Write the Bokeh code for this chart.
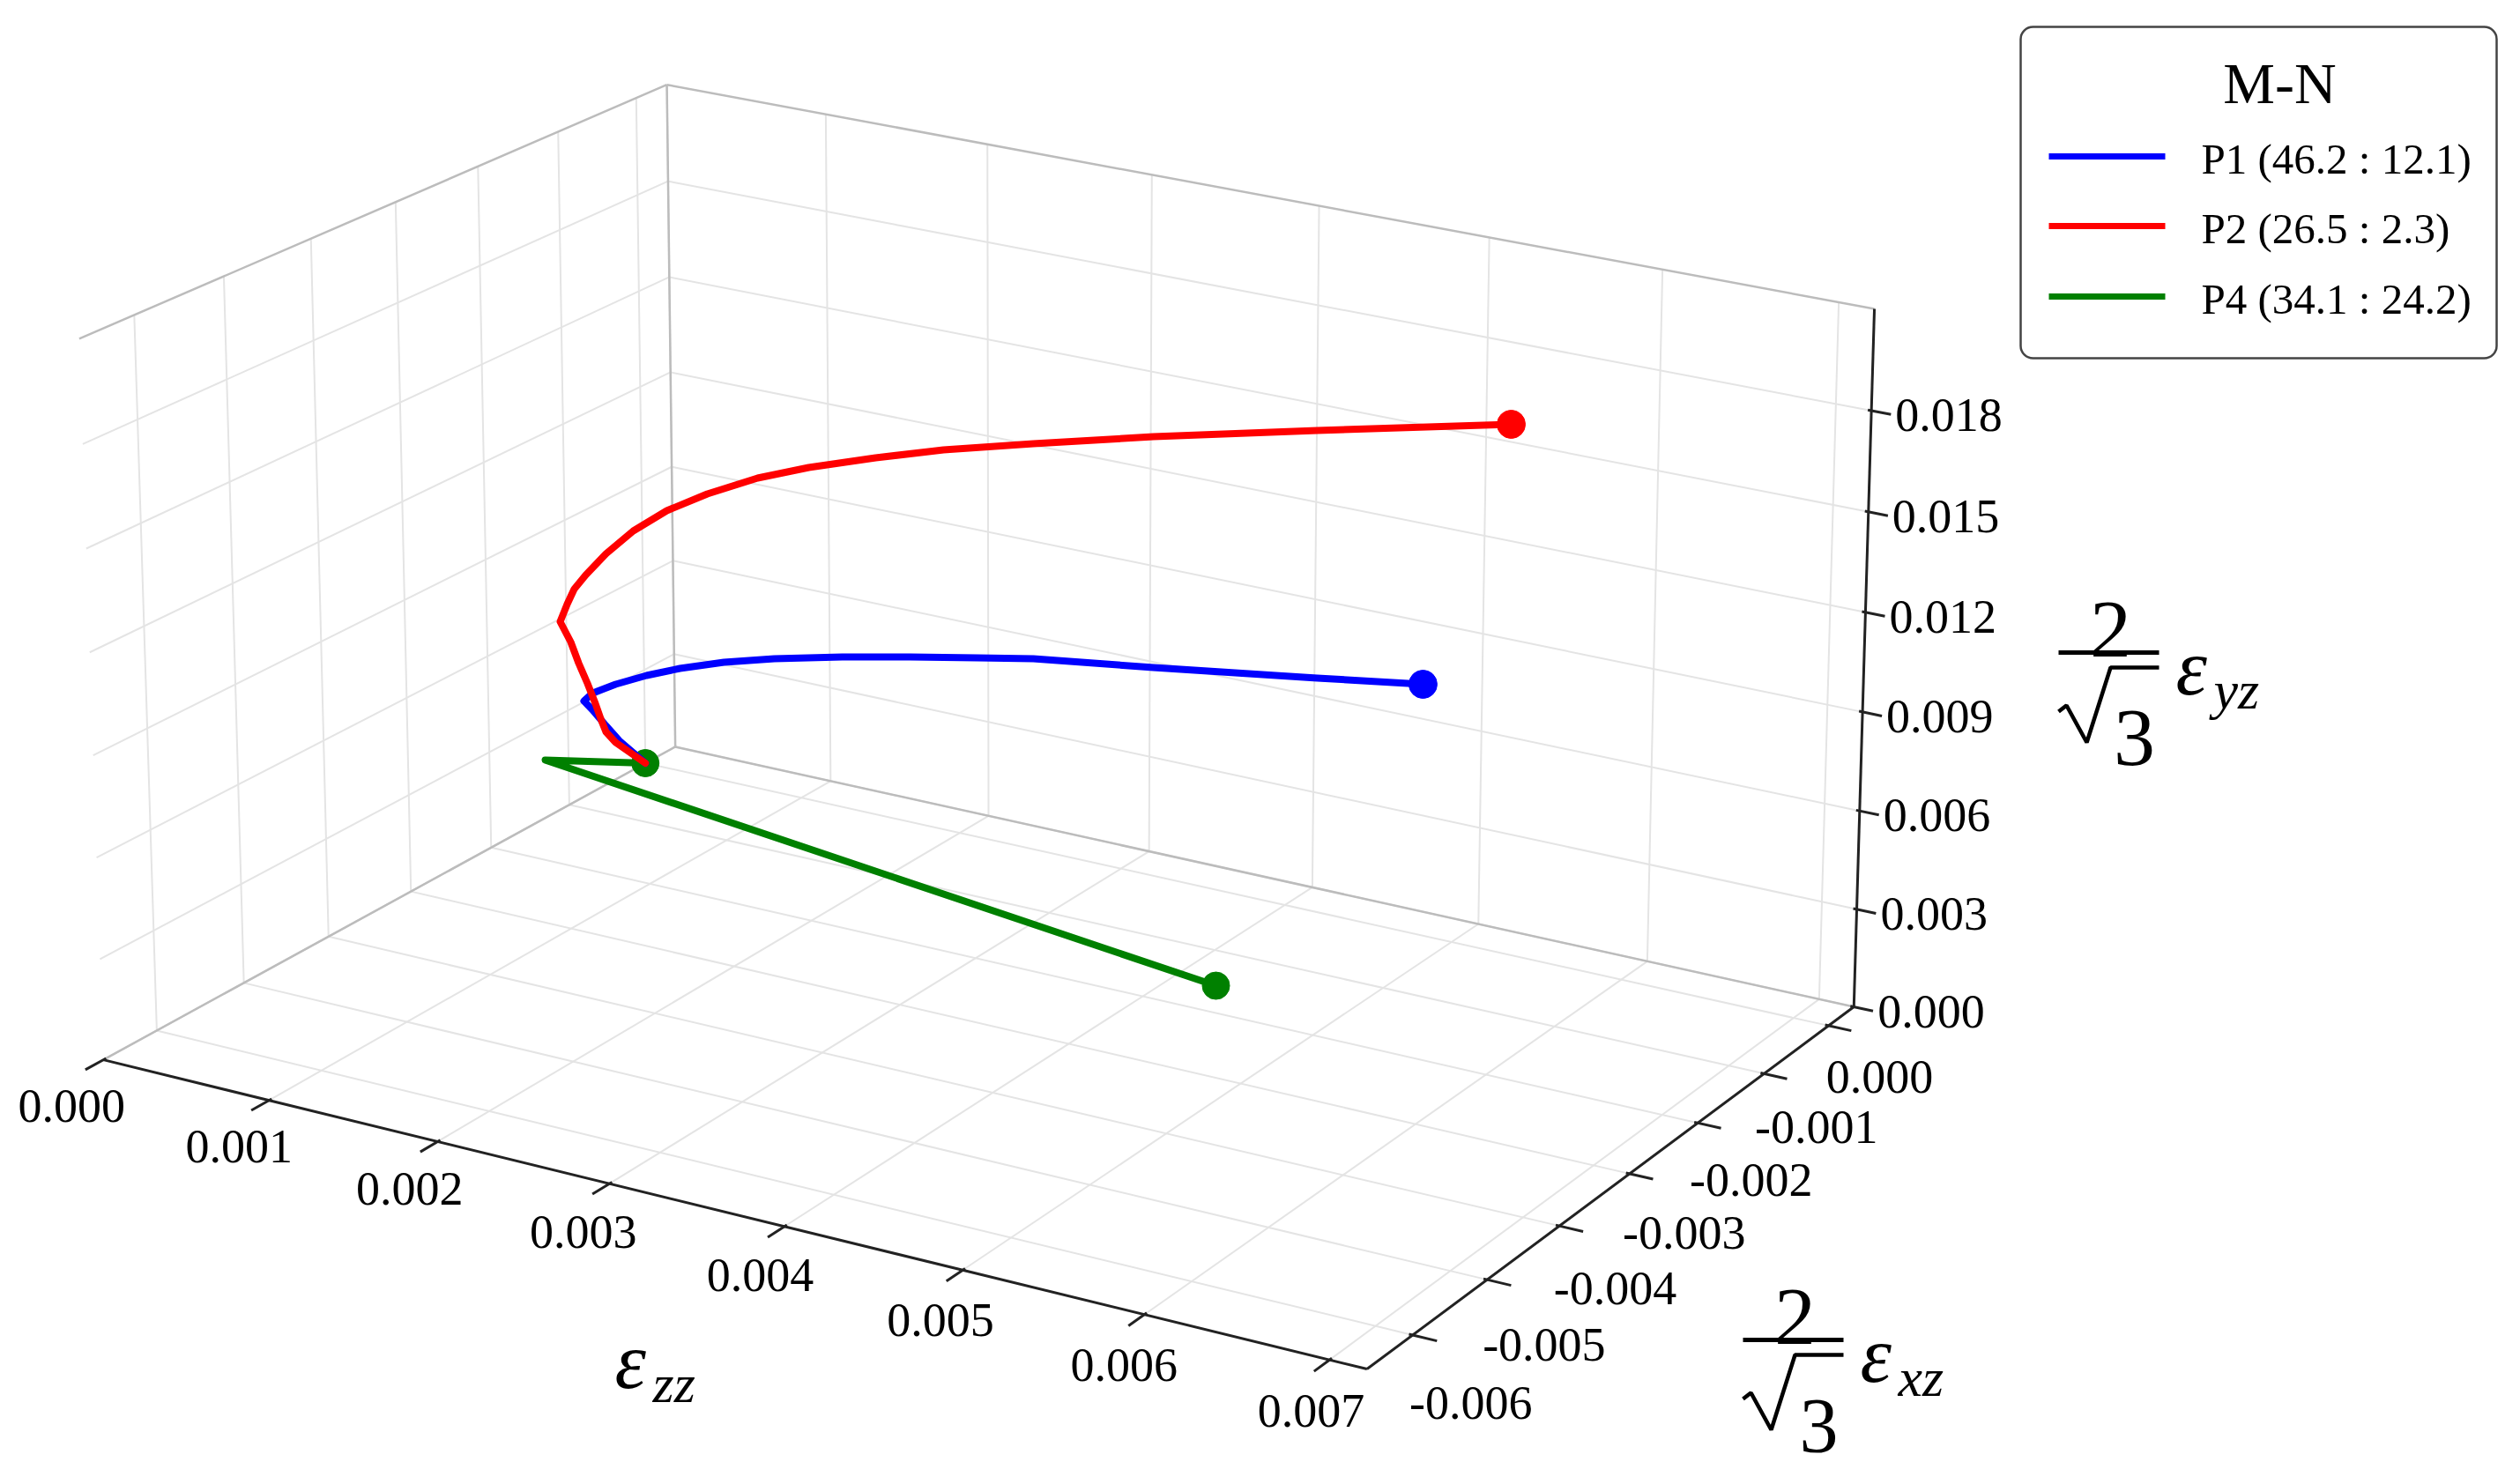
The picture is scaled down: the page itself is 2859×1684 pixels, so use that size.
import numpy as np
from bokeh.plotting import figure
from bokeh.models import Range1d
from bokeh.core.properties import value
from bokeh.embed import file_html
from bokeh.resources import INLINE

# ---------------- data: strain paths (ezz, 2/sqrt3 exz, 2/sqrt3 eyz) ----------------
P1_EZZ = [0.0, 0.0, 0.0, 0.0, 0.0, 0.000057, 0.000205, 0.000403, 0.000616, 0.000895,
          0.001211, 0.001635, 0.002055, 0.002466, 0.002810, 0.003534, 0.004507, 0.005125]
P1_EXZ = [0.0, -0.00034, -0.00051, -0.00068, -0.00079, -0.00079, -0.00079, -0.00079, -0.00079,
          -0.00079, -0.00079, -0.00079, -0.00079, -0.00079, -0.00079, -0.00079, -0.00079, -0.00079]
P1_EYZ = [0.0, 0.001174, 0.001877, 0.002604, 0.003030, 0.003345, 0.003785, 0.004278, 0.004731,
          0.005227, 0.005678, 0.006190, 0.006642, 0.007057, 0.007400, 0.007909, 0.008638, 0.009122]

P2_EZZ = [0.0, 0.0, 0.0, 0.0, 0.0, 0.0, 0.0, 0.0, 0.0, 0.000047, 0.000093, 0.000168, 0.000298,
          0.000473, 0.000686, 0.000941, 0.001255, 0.001572, 0.001983, 0.002396, 0.002938,
          0.003652, 0.004611, 0.005722]
P2_EXZ = [0.0, -0.000387, -0.000511, -0.000577, -0.000642, -0.000741, -0.000850, -0.000947,
          -0.001078, -0.001078, -0.001078, -0.001078, -0.001078, -0.001078, -0.001078, -0.001078,
          -0.001078, -0.001078, -0.001078, -0.001078, -0.001078, -0.001078, -0.001078, -0.001078]
P2_EYZ = [0.0, 0.001178, 0.001681, 0.002190, 0.002754, 0.003527, 0.004311, 0.005105, 0.005910,
          0.006515, 0.007035, 0.007556, 0.008355, 0.009252, 0.010103, 0.010884, 0.011696,
          0.012344, 0.013060, 0.013721, 0.014457, 0.015391, 0.016544, 0.017845]

P4_EZZ = [0.0, 0.0, 0.004249]
P4_EXZ = [0.0, -0.001299, -0.001569]
P4_EYZ = [0.0, 0.001824, 0.0]

SERIES = [("P1 (46.2 : 12.1)", "#0000ff", P1_EZZ, P1_EXZ, P1_EYZ),
          ("P2 (26.5 : 2.3)", "#ff0000", P2_EZZ, P2_EXZ, P2_EYZ),
          ("P4 (34.1 : 24.2)", "#008000", P4_EZZ, P4_EXZ, P4_EYZ)]
LEGEND_TITLE = "M-N"

# ---------------- axes ----------------
XL = (0.0, 0.0072)
YL = (-0.0066, 0.0004)
ZL = (0.0, 0.021)
EZZ_TICKS = [0.000, 0.001, 0.002, 0.003, 0.004, 0.005, 0.006, 0.007]
EZZ_LABELS = ["0.000", "0.001", "0.002", "0.003", "0.004", "0.005", "0.006", "0.007"]
EXZ_TICKS = [0.000, -0.001, -0.002, -0.003, -0.004, -0.005, -0.006]
EXZ_LABELS = ["0.000", "-0.001", "-0.002", "-0.003", "-0.004", "-0.005", "-0.006"]
EYZ_TICKS = [0.000, 0.003, 0.006, 0.009, 0.012, 0.015, 0.018]
EYZ_LABELS = ["0.000", "0.003", "0.006", "0.009", "0.012", "0.015", "0.018"]

# ---------------- perspective camera (homogeneous 3x4 view matrix, strains in 1e-3) ----------------
CAMERA = np.array([
    [169.3166, 94.78749, -1.298516, 739.7245],
    [31.74351, -35.37039, -36.07035, 873.4866],
    [-0.008222623, 0.01292306, -0.001099677, 1.0],
])


def proj(x, y, z):
    x = np.atleast_1d(np.asarray(x, float)) * 1e3
    y = np.atleast_1d(np.asarray(y, float)) * 1e3
    z = np.atleast_1d(np.asarray(z, float)) * 1e3
    h = CAMERA @ np.vstack([x, y, z, np.ones_like(x)])
    return h[0] / h[2], h[1] / h[2]


W, H = 2843, 1668
fig = figure(width=W, height=H, x_range=Range1d(8, 8 + W), y_range=Range1d(8 + H, 8),
             x_axis_type=None, y_axis_type=None, output_backend="svg",
             toolbar_location=None, min_border=0)
fig.outline_line_color = None
fig.background_fill_color = "white"
fig.border_fill_color = "white"
SERIF = "Liberation Serif"


def seg_list(pairs):
    xs, ys = [], []
    for a, b in pairs:
        u, v = proj([a[0], b[0]], [a[1], b[1]], [a[2], b[2]])
        xs.append(list(u))
        ys.append(list(v))
    return xs, ys


x0, x1 = XL
y0, y1 = YL
z0, z1 = ZL
grid = []
for t in EZZ_TICKS:
    grid.append(((t, y0, z0), (t, y1, z0)))   # floor
    grid.append(((t, y1, z0), (t, y1, z1)))   # back wall
for t in EXZ_TICKS:
    grid.append(((x0, t, z0), (x1, t, z0)))   # floor
    grid.append(((x0, t, z0), (x0, t, z1)))   # left wall
for t in EYZ_TICKS:
    grid.append(((x0, y1, t), (x1, y1, t)))   # back wall
    grid.append(((x0, y0, t), (x0, y1, t)))   # left wall
gx, gy = seg_list(grid)
fig.multi_line(gx, gy, line_color="#e4e4e4", line_width=2)

edges = [((x0, y0, z1), (x0, y1, z1)), ((x0, y1, z1), (x1, y1, z1)), ((x0, y1, z0), (x0, y1, z1)),
         ((x0, y0, z0), (x0, y1, z0)), ((x0, y1, z0), (x1, y1, z0))]
ex, ey = seg_list(edges)
fig.multi_line(ex, ey, line_color="#bcbcbc", line_width=2.5)

axes = [((x0, y0, z0), (x1, y0, z0)), ((x1, y0, z0), (x1, y1, z0)), ((x1, y1, z0), (x1, y1, z1))]
ticks = []
for t in EZZ_TICKS:
    ticks.append(((t, y0 - 0.0002, z0), (t, y0 + 0.00003, z0)))
for t in EXZ_TICKS:
    ticks.append(((x1 - 0.00002, t, z0), (x1 + 0.00013, t, z0)))
for t in EYZ_TICKS:
    ticks.append(((x1 - 0.00002, y1, t), (x1 + 0.00011, y1, t)))
axx, axy = seg_list(axes + ticks)
fig.multi_line(axx, axy, line_color="#222222", line_width=3)

# tick labels
u, v = proj(EZZ_TICKS, [y0] * len(EZZ_TICKS), [z0] * len(EZZ_TICKS))
n = len(EZZ_TICKS)
fig.text(x=[u[i] - 36 + 15 * i / (n - 1) for i in range(n)], y=[v[i] + 52 + 6 * i / (n - 1) for i in range(n)],
         text=EZZ_LABELS, text_font=value(SERIF), text_font_size="54px",
         text_align="center", text_baseline="middle", text_color="black")
u, v = proj([x1] * len(EXZ_TICKS), EXZ_TICKS, [z0] * len(EXZ_TICKS))
n = len(EXZ_TICKS)
fig.text(x=[u[i] + 58 + 8 * i / (n - 1) for i in range(n)], y=[v[i] + 58 + 19 * i / (n - 1) for i in range(n)],
         text=EXZ_LABELS, text_font=value(SERIF), text_font_size="54px",
         text_align="center", text_baseline="middle", text_color="black")
u, v = proj([x1] * len(EYZ_TICKS), [y1] * len(EYZ_TICKS), EYZ_TICKS)
fig.text(x=list(u + 27), y=list(v + 5), text=EYZ_LABELS, text_font=value(SERIF), text_font_size="54px",
         text_align="left", text_baseline="middle", text_color="black")


# axis titles
def eps_label(xl, yb, sub):
    fig.text(x=[xl], y=[yb], text=["\u03b5"], text_font=value(SERIF), text_font_style="italic",
             text_font_size="90px", text_align="left", text_baseline="alphabetic", text_color="black")
    fig.text(x=[xl + 43], y=[yb + 25], text=[sub], text_font=value(SERIF), text_font_style="italic",
             text_font_size="62px", text_align="left", text_baseline="alphabetic", text_color="black")


def frac_label(xa, yb, sub, fs3):
    fig.text(x=[xa + 59], y=[yb - 26], text=["2"], text_font=value(SERIF), text_font_size="94px",
             text_align="center", text_baseline="alphabetic", text_color="black")
    fig.line(x=[xa, xa + 114], y=[yb, yb], line_width=5, line_color="black")
    fig.line(x=[xa, xa + 9, xa + 32, xa + 59, xa + 114], y=[yb + 67, yb + 60, yb + 102, yb + 17, yb + 17],
             line_width=4.5, line_color="black")
    fig.text(x=[xa + 86], y=[yb + 97], text=["3"], text_font=value(SERIF), text_font_size=fs3,
             text_align="center", text_baseline="alphabetic", text_color="black")
    eps_label(xa + 133, yb + 17, sub)


eps_label(705, 1552, "zz")
frac_label(2343, 748, "yz", "94px")
frac_label(1985, 1528, "xz", "88px")

# curves: green first, then blue, then red (layering as in the figure)
for i in [2, 0, 1]:
    name, col, ez, ex, ey = SERIES[i]
    u, v = proj(ez, ex, ey)
    fig.line(list(u), list(v), line_color=col, line_width=8, line_join="round", line_cap="round")
    if i == 2:
        fig.scatter([u[0], u[-1]], [v[0], v[-1]], size=31, fill_color=col, line_color=col)
    else:
        fig.scatter([u[-1]], [v[-1]], size=32, fill_color=col, line_color=col)

# legend
lb = fig.quad(left=[2300], right=[2840], top=[38], bottom=[414], fill_color="white",
              line_color="#444444", line_width=2.5)
try:
    lb.glyph.border_radius = 14
except Exception:
    pass
fig.text(x=[2594], y=[102], text=[LEGEND_TITLE], text_font=value(SERIF), text_font_size="66px",
         text_align="center", text_baseline="middle", text_color="black")
for k, (name, col, *_r) in enumerate(SERIES):
    yy = [185, 264, 344][k]
    fig.line(x=[2332, 2464], y=[yy, yy], line_color=col, line_width=7)
    fig.text(x=[2505], y=[yy + 3], text=[name], text_font=value(SERIF), text_font_size="49px",
             text_align="left", text_baseline="middle", text_color="black")

open("out.html", "w").write(file_html(fig, INLINE))
